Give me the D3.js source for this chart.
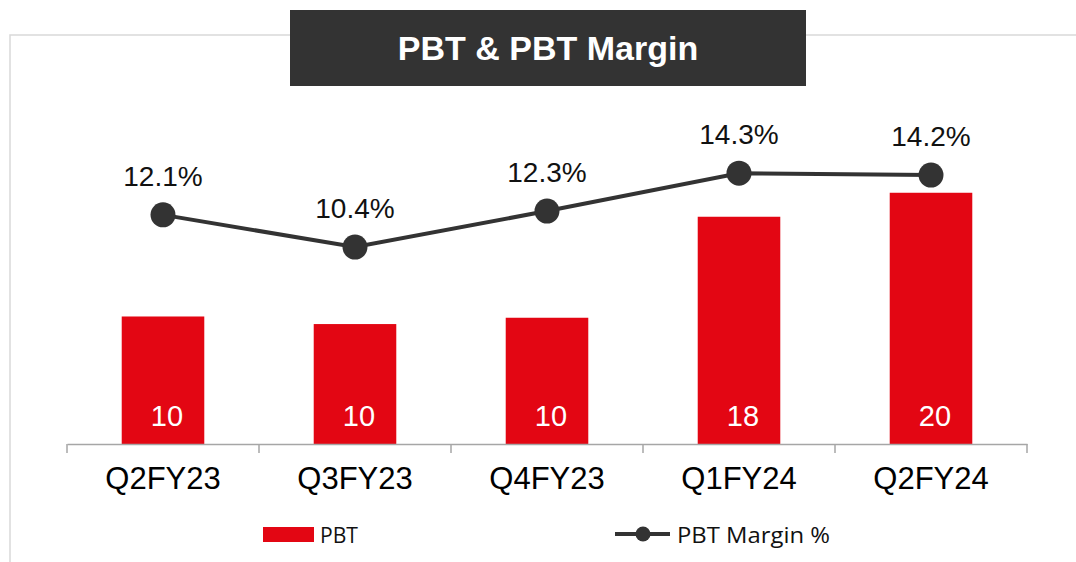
<!DOCTYPE html>
<meta charset="utf-8">
<head>
  <title>PBT & PBT Margin</title>
</head>

<style>
body {
  margin: 0;
  background: #fff;
}
text {
  font-family: "Liberation Sans", Arial, sans-serif;
}
.bar {
  fill: #e30613;
}
.margin-line {
  fill: none;
  stroke: #333;
  stroke-width: 4px;
}
.dot {
  fill: #333;
}
.legend text {
  font-family: "Open Sans", "Noto Sans", sans-serif;
  font-size: 22px;
  fill: #111;
}
</style>

<body>
  <svg width="1076" height="562"></svg>

  <script src="https://cdnjs.cloudflare.com/ajax/libs/d3/7.8.5/d3.min.js"></script>
  <script>
var width = 1076, height = 562

var quarters = ['Q2FY23', 'Q3FY23', 'Q4FY23', 'Q1FY24', 'Q2FY24']
var pbt = [10.1, 9.5, 10.0, 18.0, 19.9]
var pbtMargin = [12.1, 10.4, 12.3, 14.3, 14.2]

var svg = d3.select('svg')

// outer frame, open to the right and bottom
svg.append('path')
  .attr('d', 'M10,' + height + 'V35H' + width)
  .attr('fill', 'none')
  .attr('stroke', '#d9d9d9')
  .attr('stroke-width', 1.5)

// title box
svg.append('rect')
  .attr('x', 290).attr('y', 10)
  .attr('width', 516).attr('height', 76)
  .attr('fill', '#333')
svg.append('text')
  .attr('x', 548).attr('y', 60)
  .attr('text-anchor', 'middle')
  .attr('fill', '#fff')
  .style('font-weight', 'bold')
  .style('font-size', '34px')
  .text('PBT & PBT Margin')

var x = d3.scaleBand()
  .domain(quarters)
  .range([67, 1027])
  .paddingInner(0.57)
  .paddingOuter(0.285)

var baseY = 444, topY = 141
var yBar = d3.scaleLinear().domain([0, 24]).range([baseY, topY])
var yLine = d3.scaleLinear().domain([0, 16]).range([baseY, topY])

// bars
svg.append('g')
  .selectAll('rect')
  .data(pbt)
  .enter()
  .append('rect')
  .attr('class', 'bar')
  .attr('x', function(d, i) { return x(quarters[i]) })
  .attr('width', x.bandwidth())
  .attr('y', function(d) { return yBar(d) })
  .attr('height', function(d) { return baseY - yBar(d) })

svg.append('g')
  .selectAll('text')
  .data(pbt)
  .enter()
  .append('text')
  .attr('x', function(d, i) { return x(quarters[i]) + x.bandwidth() / 2 + 4 })
  .attr('y', baseY - 18)
  .attr('text-anchor', 'middle')
  .attr('fill', '#fff')
  .style('font-size', '29px')
  .text(function(d) { return d3.format('.0f')(d) })

// x axis
var xAxis = svg.append('g')
  .attr('transform', 'translate(0,' + baseY + ')')
  .call(d3.axisBottom(x).tickSize(0).tickPadding(23))
xAxis.select('.domain').attr('stroke', '#a6a6a6').attr('stroke-width', 1.5)
xAxis.selectAll('.tick text')
  .style('font-family', '"Liberation Sans", Arial, sans-serif')
  .style('font-size', '31px')
  .attr('fill', '#000')

var bounds = quarters.map(function(q) { return x(q) + x.bandwidth() / 2 - x.step() / 2 })
bounds.push(x.range()[1])
xAxis.selectAll('.bound')
  .data(bounds)
  .enter()
  .append('line')
  .attr('x1', function(d) { return d })
  .attr('x2', function(d) { return d })
  .attr('y1', 0)
  .attr('y2', 9)
  .attr('stroke', '#a6a6a6')
  .attr('stroke-width', 1.5)

// margin line
var cx = function(d, i) { return x(quarters[i]) + x.bandwidth() / 2 }
var line = d3.line()
  .x(cx)
  .y(function(d) { return yLine(d) })

svg.append('path')
  .datum(pbtMargin)
  .attr('class', 'margin-line')
  .attr('d', line)

svg.append('g')
  .selectAll('circle')
  .data(pbtMargin)
  .enter()
  .append('circle')
  .attr('class', 'dot')
  .attr('cx', cx)
  .attr('cy', function(d) { return yLine(d) })
  .attr('r', 12.5)

svg.append('g')
  .selectAll('text')
  .data(pbtMargin)
  .enter()
  .append('text')
  .attr('x', cx)
  .attr('y', function(d) { return yLine(d) - 29 })
  .attr('text-anchor', 'middle')
  .attr('fill', '#111')
  .style('font-size', '28px')
  .text(function(d) { return d3.format('.1f')(d) + '%' })

// legend
var legend = svg.append('g').attr('class', 'legend')
legend.append('rect')
  .attr('x', 263).attr('y', 527)
  .attr('width', 51).attr('height', 15)
  .attr('class', 'bar')
legend.append('text')
  .attr('x', 320).attr('y', 543)
  .attr('textLength', 38)
  .attr('lengthAdjust', 'spacingAndGlyphs')
  .text('PBT')
legend.append('line')
  .attr('x1', 615).attr('x2', 670)
  .attr('y1', 534).attr('y2', 534)
  .attr('stroke', '#333')
  .attr('stroke-width', 4)
legend.append('circle')
  .attr('cx', 643).attr('cy', 534)
  .attr('r', 7.5)
  .attr('class', 'dot')
legend.append('text')
  .attr('x', 677).attr('y', 543)
  .attr('textLength', 153)
  .attr('lengthAdjust', 'spacingAndGlyphs')
  .text('PBT Margin %')
  </script>
</body>
</html>
